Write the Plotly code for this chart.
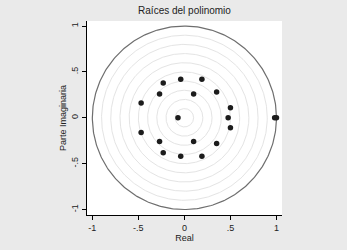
import numpy as np
import plotly.graph_objects as go

# Roots of the polynomial (real, imaginary)
real_parts = [-0.07, 0.475, 0.98, 1.0,
              -0.04, -0.04, 0.19, 0.19, -0.23, -0.23, -0.27, -0.27,
              0.10, 0.10, 0.35, 0.35, -0.47, -0.47, 0.50, 0.50]
imag_parts = [0.0, 0.0, 0.0, 0.0,
              0.42, -0.42, 0.42, -0.42, 0.38, -0.38, 0.26, -0.26,
              0.26, -0.26, 0.28, -0.28, 0.16, -0.16, 0.11, -0.11]

ring_radii = [0.1, 0.2, 0.3, 0.4, 0.5, 0.6, 0.7, 0.8, 0.9]
unit_radius = 1.0

tick_vals = [-1, -0.5, 0, 0.5, 1]
tick_text = ["-1", "-.5", "0", ".5", "1"]

theta = np.linspace(0, 2 * np.pi, 361)

fig = go.Figure()
for r in ring_radii:
    fig.add_trace(go.Scatter(x=r * np.cos(theta), y=r * np.sin(theta), mode="lines",
                             line=dict(color="#e4e4e4", width=1), hoverinfo="skip",
                             showlegend=False))
fig.add_trace(go.Scatter(x=unit_radius * np.cos(theta), y=unit_radius * np.sin(theta),
                         mode="lines", line=dict(color="#6e6e6e", width=1.2),
                         hoverinfo="skip", showlegend=False))
fig.add_trace(go.Scatter(x=real_parts, y=imag_parts, mode="markers",
                         marker=dict(color="#1c1c1c", size=5.5), showlegend=False))

font = "Liberation Sans, Arial, sans-serif"
fig.update_layout(
    width=347, height=250,
    margin=dict(l=87, r=65, t=21, b=35, autoexpand=False),
    paper_bgcolor="#eaeaea", plot_bgcolor="#ffffff",
    font=dict(family=font, size=9, color="#222222"),
    title=dict(text="Raíces del polinomio", x=0.5, xanchor="center", xref="paper",
               yref="container", y=0.96, yanchor="middle", automargin=False,
               font=dict(size=10, color="#222222")),
    xaxis=dict(range=[-1.058, 1.06], tickvals=tick_vals, ticktext=tick_text,
               showgrid=False, zeroline=False, showline=True, linecolor="#000000",
               linewidth=1, ticks="outside", ticklen=4, tickcolor="#000000",
               automargin=False,
               title=dict(text="Real", standoff=2, font=dict(size=9))),
    yaxis=dict(range=[-1.06, 1.055], tickvals=tick_vals, ticktext=tick_text,
               tickangle=-90, showgrid=False, zeroline=False, showline=True,
               linecolor="#000000", linewidth=1, ticks="outside", ticklen=4,
               tickcolor="#000000", automargin=False,
               title=dict(text="Parte Imaginaria", standoff=2, font=dict(size=9))),
)

fig.write_html("out.html", config={"displayModeBar": False},
               post_script="document.body.style.margin='0';"
                           "document.body.style.background='#eaeaea';")
